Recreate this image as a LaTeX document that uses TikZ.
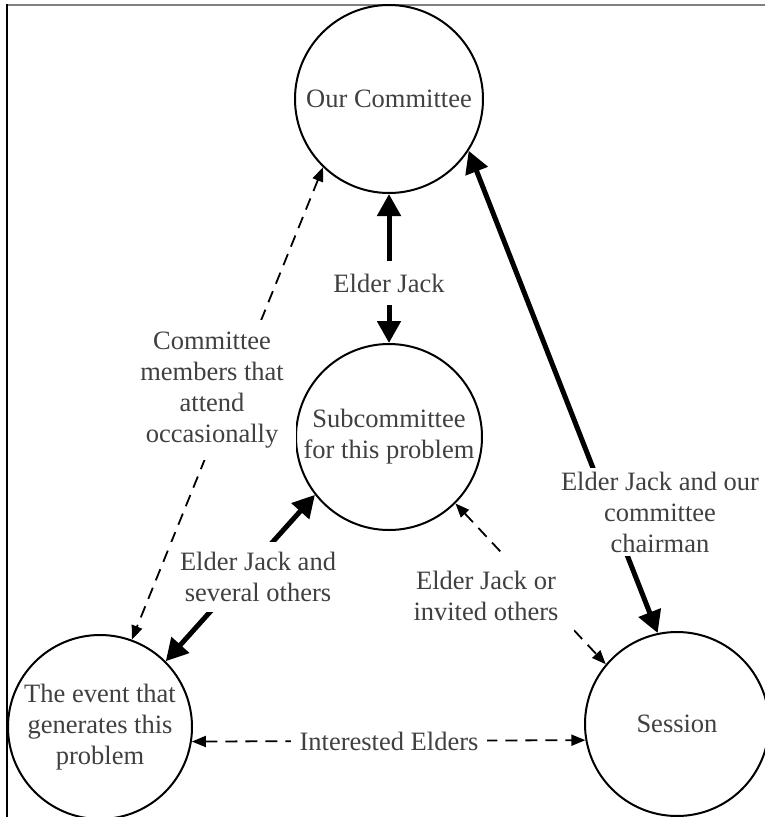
\documentclass[tikz,border=0pt]{standalone}
\usepackage{fontspec}
\setmainfont{Liberation Serif}
\usetikzlibrary{arrows.meta}
\begin{document}
\begin{tikzpicture}[x=1pt,y=-1pt,
  txt/.style={text=black!75,font=\fontsize{26.5}{31}\selectfont,align=center},
  circ/.style={txt,circle,draw=black,line width=2pt,inner sep=0pt},
  lbl/.style={txt,fill=white,inner sep=6pt},
  thickarrow/.style={line width=5pt,{Triangle[length=22pt,width=23pt]}-{Triangle[length=22pt,width=23pt]}},
  dasharrow/.style={line width=1.8pt,dash pattern=on 12pt off 8pt,{Triangle[length=14pt,width=11pt]}-{Triangle[length=14pt,width=11pt]}}
]
\useasboundingbox (0,0) rectangle (765,817);
\fill[white] (0,0) rectangle (765,817);
% frame
\draw[gray, line width=2pt] (7,5) -- (765,5);
\draw[black, line width=1.5pt] (7,4) -- (7,817);

% circles
\node[circ,minimum size=188pt] (oc) at (389,99) {Our Committee};
\node[circ,minimum size=186pt] (sc) at (389,437) {Subcommittee\\for this problem};
\node[circ,minimum size=184pt] (ev) at (100,727) {The event that\\generates this\\problem};
\node[circ,minimum size=184pt] (se) at (677,724) {Session};

% connectors
\draw[thickarrow] (oc) -- (sc);
\draw[thickarrow] (oc.-33) -- (se.102);
\draw[thickarrow] (sc.218) -- (ev.45);
\draw[dasharrow] (oc.226) -- (ev.70);
\draw[dasharrow] (sc.-45) -- (se.140);
\draw[dasharrow] (ev.-9) -- (se.190.6);

% labels
\node[lbl,inner ysep=13pt] (l1) at (389,283) {Elder Jack};
\node[lbl,inner sep=12pt] (l2) at (212,390) {Committee\\members that\\attend\\occasionally};
\node[lbl,inner sep=4pt] (l3) at (660,512) {Elder Jack and our\\committee\\chairman};
\node[lbl,inner sep=10pt] (l4) at (258,577) {Elder Jack and\\several others};
\node[lbl,inner sep=16pt] (l5) at (486,596) {Elder Jack or\\invited others};
\node[lbl,inner xsep=9pt] (l6) at (389,741) {Interested Elders};
\end{tikzpicture}
\end{document}
